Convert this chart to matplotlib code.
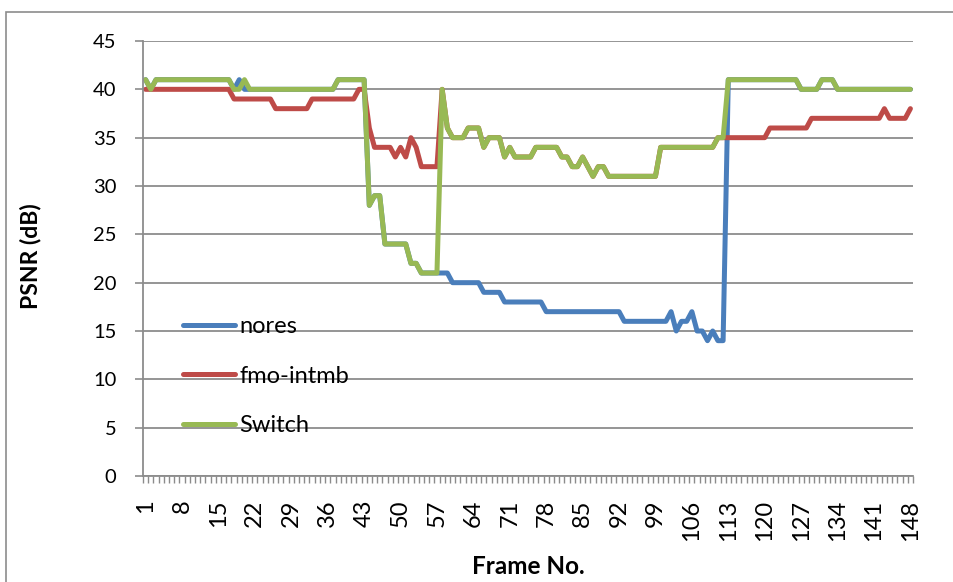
import matplotlib
matplotlib.use("Agg")
import matplotlib.pyplot as plt
from matplotlib.patches import Rectangle
import numpy as np

plt.rcParams['font.family'] = ['Lato', 'DejaVu Sans']

# frames 1..148
frames = list(range(1, 149))

nores = [41, 40, 41, 41, 41, 41, 41, 41, 41, 41,
         41, 41, 41, 41, 41, 41, 41, 40, 41, 40,
         40, 40, 40, 40, 40, 40, 40, 40, 40, 40,
         40, 40, 40, 40, 40, 40, 40, 41, 41, 41,
         41, 41, 41, 28, 29, 29, 24, 24, 24, 24,
         24, 22, 22, 21, 21, 21, 21, 21, 21, 20,
         20, 20, 20, 20, 20, 19, 19, 19, 19, 18,
         18, 18, 18, 18, 18, 18, 18, 17, 17, 17,
         17, 17, 17, 17, 17, 17, 17, 17, 17, 17,
         17, 17, 16, 16, 16, 16, 16, 16, 16, 16,
         16, 17, 15, 16, 16, 17, 15, 15, 14, 15,
         14, 14, 41, 41, 41, 41, 41, 41, 41, 41,
         41, 41, 41, 41, 41, 41, 40, 40, 40, 40,
         41, 41, 41, 40, 40, 40, 40, 40, 40, 40,
         40, 40, 40, 40, 40, 40, 40, 40]

fmo_intmb = [40, 40, 40, 40, 40, 40, 40, 40, 40, 40,
             40, 40, 40, 40, 40, 40, 40, 39, 39, 39,
             39, 39, 39, 39, 39, 38, 38, 38, 38, 38,
             38, 38, 39, 39, 39, 39, 39, 39, 39, 39,
             39, 40, 40, 36, 34, 34, 34, 34, 33, 34,
             33, 35, 34, 32, 32, 32, 32, 40, 36, 35,
             35, 35, 36, 36, 36, 34, 35, 35, 35, 33,
             34, 33, 33, 33, 33, 34, 34, 34, 34, 34,
             33, 33, 32, 32, 33, 32, 31, 32, 32, 31,
             31, 31, 31, 31, 31, 31, 31, 31, 31, 34,
             34, 34, 34, 34, 34, 34, 34, 34, 34, 34,
             35, 35, 35, 35, 35, 35, 35, 35, 35, 35,
             36, 36, 36, 36, 36, 36, 36, 36, 37, 37,
             37, 37, 37, 37, 37, 37, 37, 37, 37, 37,
             37, 37, 38, 37, 37, 37, 37, 38]

switch = [41, 40, 41, 41, 41, 41, 41, 41, 41, 41,
          41, 41, 41, 41, 41, 41, 41, 40, 40, 41,
          40, 40, 40, 40, 40, 40, 40, 40, 40, 40,
          40, 40, 40, 40, 40, 40, 40, 41, 41, 41,
          41, 41, 41, 28, 29, 29, 24, 24, 24, 24,
          24, 22, 22, 21, 21, 21, 21, 40, 36, 35,
          35, 35, 36, 36, 36, 34, 35, 35, 35, 33,
          34, 33, 33, 33, 33, 34, 34, 34, 34, 34,
          33, 33, 32, 32, 33, 32, 31, 32, 32, 31,
          31, 31, 31, 31, 31, 31, 31, 31, 31, 34,
          34, 34, 34, 34, 34, 34, 34, 34, 34, 34,
          35, 35, 41, 41, 41, 41, 41, 41, 41, 41,
          41, 41, 41, 41, 41, 41, 40, 40, 40, 40,
          41, 41, 41, 40, 40, 40, 40, 40, 40, 40,
          40, 40, 40, 40, 40, 40, 40, 40]

series_names = ['nores', 'fmo-intmb', 'Switch']
colors = ['#4A7EBB', '#BE4B48', '#98B954']
y_ticks = [0, 5, 10, 15, 20, 25, 30, 35, 40, 45]
x_labels = frames[::7]

fig = plt.figure(figsize=(9.54, 5.82), dpi=100)
# chart area border (cut off at right and bottom like the source)
fig.patches.append(Rectangle((6 / 954, -0.1), 1.2, 1.1 - 12 / 582, transform=fig.transFigure,
                             fill=False, edgecolor='#8c8c8c', linewidth=1.2))
ax = fig.add_axes([143 / 954, 1 - 476 / 582, 770 / 954, 435 / 582])

for vals, name, c in zip([nores, fmo_intmb, switch], series_names, colors):
    ax.plot(frames, vals, color=c, linewidth=3.6, label=name, solid_joinstyle='round',
            solid_capstyle='round')

ax.set_xlim(0.5, 148.5)
ax.set_ylim(0, 45)
ax.set_yticks(y_ticks)
ax.grid(axis='y', color='#8c8c8c', linewidth=1.3)
ax.set_axisbelow(True)

ax.set_xticks(x_labels)
ax.set_xticklabels([str(v) for v in x_labels], rotation=90, fontsize=17)
ax.set_xticks(np.arange(0.5, 149, 1), minor=True)
ax.tick_params(axis='x', which='major', length=0, pad=17)
ax.tick_params(axis='x', which='minor', length=5, color='#8c8c8c', width=1)
ax.tick_params(axis='y', length=6, color='#8c8c8c', width=1.2, labelsize=14.5, pad=13)

for s in ['top', 'right']:
    ax.spines[s].set_visible(False)
for s in ['left', 'bottom']:
    ax.spines[s].set_color('#8c8c8c')
    ax.spines[s].set_linewidth(1.3)

fig.text(31 / 954, 1 - 256 / 582, 'PSNR (dB)', rotation=90, ha='center', va='center',
         fontsize=16.5, fontweight='bold')
fig.text(528 / 954, 1 - 566 / 582, 'Frame No.', ha='center', va='center',
         fontsize=17.5, fontweight='bold')

ax.legend(loc='upper left', bbox_to_anchor=(0.052, 0.367), frameon=False, fontsize=17,
          handlelength=2.2, handletextpad=0.2, labelspacing=1.2, borderpad=0,
          borderaxespad=0)

fig.savefig('out.png', dpi=100)
